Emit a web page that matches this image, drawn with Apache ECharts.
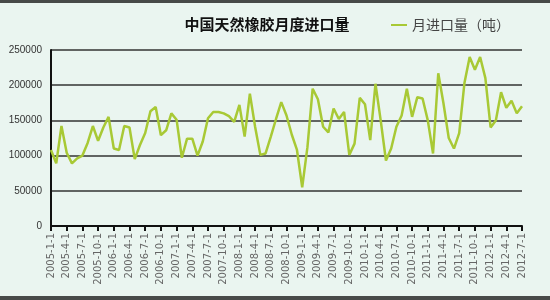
<!DOCTYPE html>
<html><head><meta charset="utf-8">
<script src="https://cdn.jsdelivr.net/npm/echarts@6/dist/echarts.min.js"></script>
<style>
html,body{margin:0;padding:0;background:#474a48;}
#c{position:absolute;left:0;top:3px;width:550px;height:293px;background:#eaf5f0;}
</style></head><body>
<div id="c"></div>
<script>
const title = '中国天然橡胶月度进口量';
const seriesName = '月进口量（吨）';
const yTicks = [0, 50000, 100000, 150000, 200000, 250000];
// monthly categories 2005-1-1 .. 2012-7-1
const months = [];
for (let y = 2005; y <= 2012; y++) {
  for (let m = 1; m <= 12; m++) {
    if (y === 2012 && m > 7) break;
    months.push(y + '-' + m + '-1');
  }
}
const imports = [
  108000, 89000, 142000, 104000, 89000, 96000, 100000, 118000, 142000, 121000, 140000, 155000,
  110000, 108000, 142000, 140000, 95000, 115000, 132000, 163000, 169000, 129000, 136000, 160000,
  151000, 97000, 124000, 124000, 100000, 120000, 153000, 162000, 162000, 160000, 156000, 148000,
  172000, 127000, 188000, 141000, 101000, 103000, 127000, 152000, 176000, 157000, 130000, 108000,
  55000, 112000, 195000, 180000, 141000, 133000, 167000, 152000, 162000, 101000, 117000, 182000,
  173000, 122000, 202000, 150000, 93000, 110000, 141000, 157000, 195000, 155000, 183000, 181000,
  150000, 103000, 217000, 174000, 125000, 110000, 132000, 203000, 240000, 222000, 240000, 210000,
  140000, 150000, 190000, 168000, 178000, 160000, 170000
];
const chart = echarts.init(document.getElementById('c'));
chart.setOption({
  animation: false,
  backgroundColor: '#eaf5f0',
  title: {
    text: title, left: 262, top: 9, textAlign: 'center',
    textStyle: {fontFamily: 'Noto Sans CJK SC', fontSize: 15, fontWeight: 'bold', color: '#111'}
  },
  legend: {
    left: 386, top: 10, itemWidth: 16, itemHeight: 2, itemGap: 4,
    icon: 'rect',
    textStyle: {fontFamily: 'Noto Sans CJK SC', fontSize: 14, color: '#444'},
    data: [seriesName]
  },
  grid: {left: 51, right: 28, top: 47, bottom: 70, containLabel: false},
  xAxis: {
    type: 'category', data: months, boundaryGap: false,
    axisLine: {lineStyle: {color: '#111', width: 2}},
    axisTick: {show: true, interval: 2, length: 5, lineStyle: {color: '#111', width: 2}},
    axisLabel: {interval: 2, rotate: 90, fontSize: 10, color: '#666', margin: 7,
      fontFamily: 'DejaVu Sans'},
    splitLine: {show: false}
  },
  yAxis: {
    type: 'value', min: yTicks[0], max: yTicks[yTicks.length - 1], interval: yTicks[1] - yTicks[0],
    axisLine: {show: true, lineStyle: {color: '#111', width: 2}},
    axisTick: {show: false},
    axisLabel: {fontSize: 10, color: '#333', margin: 9, fontFamily: 'Liberation Sans Narrow, Liberation Sans',
      formatter: v => String(v)},
    splitLine: {lineStyle: {color: '#333', width: 1.5}}
  },
  series: [{
    name: seriesName, type: 'line', data: imports, symbol: 'none',
    lineStyle: {color: '#a8c935', width: 2.5},
    itemStyle: {color: '#a8c935'}
  }]
});
</script>
</body></html>
